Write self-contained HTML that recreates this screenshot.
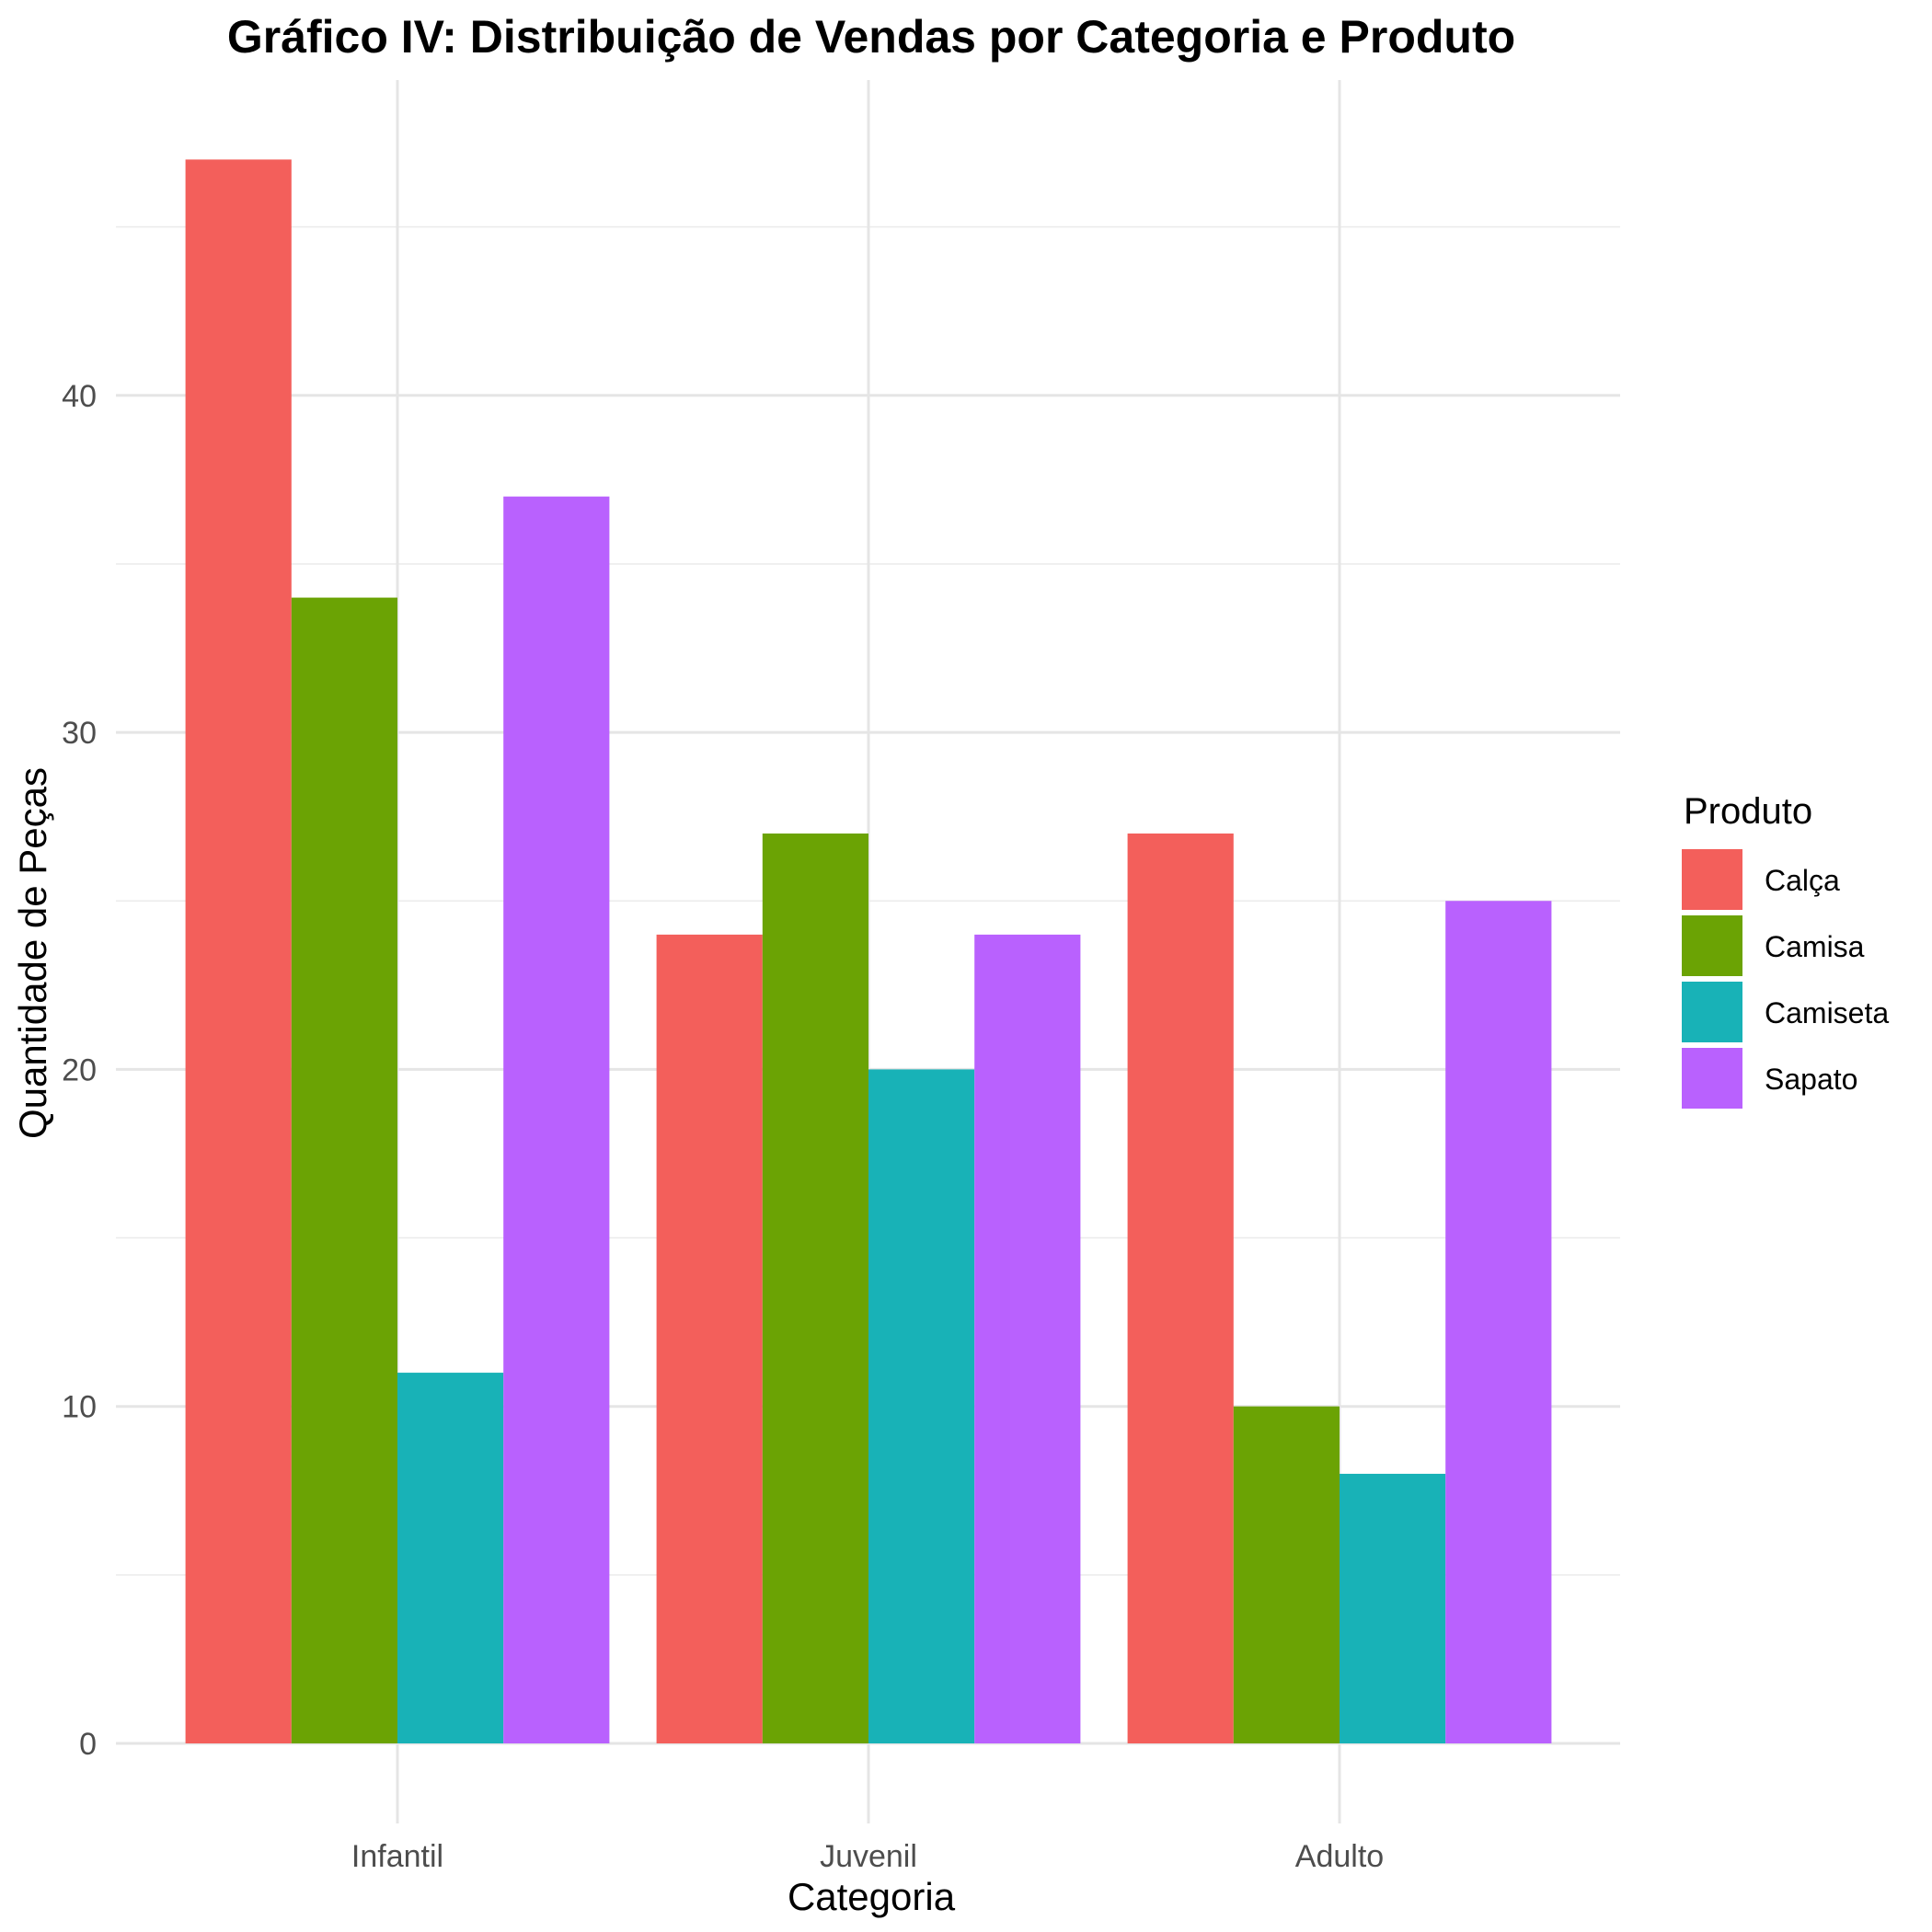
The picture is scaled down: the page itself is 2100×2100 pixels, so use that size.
<!DOCTYPE html>
<html><head><meta charset="utf-8"><style>
html,body{margin:0;padding:0;background:#fff;}
svg{display:block;font-family:"Liberation Sans",Arial,sans-serif;}
</style></head><body>
<svg id="chart" width="2100" height="2100" viewBox="0 0 2100 2100" xmlns="http://www.w3.org/2000/svg">
<text x="947" y="57" text-anchor="middle" font-size="50" font-weight="bold" fill="#000">Gráfico IV: Distribuição de Vendas por Categoria e Produto</text>
<g id="grid"></g>
<g id="bars"></g>
<g id="axes"></g>
<text x="947" y="2076" text-anchor="middle" font-size="42" fill="#000">Categoria</text>
<text transform="translate(50,1036) rotate(-90)" text-anchor="middle" font-size="42" fill="#000">Quantidade de Peças</text>
<g id="legend">
<text x="1830" y="895" font-size="40" fill="#000">Produto</text>
</g>
</svg>
<script>
const categories = ["Infantil", "Juvenil", "Adulto"];
const products = ["Calça", "Camisa", "Camiseta", "Sapato"];
const calca = [47, 24, 27];
const camisa = [34, 27, 10];
const camiseta = [11, 20, 8];
const sapato = [37, 24, 25];
const yTicks = [0, 10, 20, 30, 40];
const yMinor = [5, 15, 25, 35, 45];
const fills = ["#F35F5B", "#6BA304", "#18B2B7", "#B961FE"];
const series = [calca, camisa, camiseta, sapato];

const NS = "http://www.w3.org/2000/svg";
const plotLeft = 126, plotRight = 1761, plotTop = 87, plotBottom = 1982;
const y0 = 1895, pxPerUnit = 36.63;
function yScale(v){ return y0 - v * pxPerUnit; }
const catStep = 512, cat0 = 432;
function xScale(i){ return cat0 + i * catStep; }
const barW = catStep * 0.9 / products.length;

function mk(tag, attrs, parent){
  const e = document.createElementNS(NS, tag);
  for (const k in attrs) e.setAttribute(k, attrs[k]);
  parent.appendChild(e);
  return e;
}
const grid = document.getElementById("grid");
const bars = document.getElementById("bars");
const axes = document.getElementById("axes");
const legend = document.getElementById("legend");

yMinor.forEach(v => {
  const l = mk("line", {x1:plotLeft, x2:plotRight, y1:yScale(v), y2:yScale(v), stroke:"#ebebeb", "stroke-width":1.5}, grid);
  
  
});
yTicks.forEach(v => {
  const l = mk("line", {x1:plotLeft, x2:plotRight, y1:yScale(v), y2:yScale(v), stroke:"#e5e5e5", "stroke-width":3}, grid);
  
  
  const t = mk("text", {x:105, y:yScale(v)+12, "text-anchor":"end", "font-size":34, fill:"#4d4d4d"}, axes);
  t.textContent = v;
  
  
});
categories.forEach((c, i) => {
  const l = mk("line", {x1:xScale(i), x2:xScale(i), y1:plotTop, y2:plotBottom, stroke:"#e5e5e5", "stroke-width":3}, grid);
  
  
  const t = mk("text", {x:xScale(i), y:2029, "text-anchor":"middle", "font-size":34, fill:"#4d4d4d"}, axes);
  t.textContent = c;
  
  
});
series.forEach((vals, s) => {
  vals.forEach((v, i) => {
    const bx = xScale(i) - catStep*0.45 + s*barW;
    const r = mk("rect", {x:bx, y:yScale(v), width:barW, height:yScale(0)-yScale(v), fill:fills[s]}, bars);
    
    
  });
});
products.forEach((p, s) => {
  const r = mk("rect", {x:1828, y:923 + s*72, width:66, height:66, fill:fills[s]}, legend);
  
  
  const t = mk("text", {x:1918, y:923 + s*72 + 45, "font-size":32, fill:"#000"}, legend);
  t.textContent = p;
  
  
});
</script>
</body></html>
